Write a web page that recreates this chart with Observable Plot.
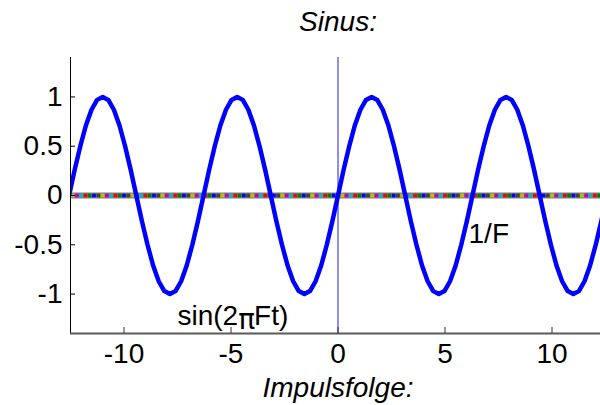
<!DOCTYPE html>
<html>
<head>
<meta charset="utf-8">
<script src="https://cdn.jsdelivr.net/npm/d3@7"></script>
<script src="https://cdn.jsdelivr.net/npm/@observablehq/plot@0.6"></script>
<style>
  html, body { margin: 0; padding: 0; background: #fff; overflow: hidden; }
  svg { display: block; }
</style>
</head>
<body>
<div id="chart"></div>
<script>
// ---- data ----
const titleText = "Sinus:";
const xLabelText = "Impulsfolge:";

const t = [-12.566, -12.305, -12.043, -11.781, -11.519, -11.257, -10.996, -10.734, -10.472, -10.210,
  -9.948, -9.687, -9.425, -9.163, -8.901, -8.639, -8.378, -8.116, -7.854, -7.592,
  -7.330, -7.069, -6.807, -6.545, -6.283, -6.021, -5.760, -5.498, -5.236, -4.974,
  -4.712, -4.451, -4.189, -3.927, -3.665, -3.403, -3.142, -2.880, -2.618, -2.356,
  -2.094, -1.833, -1.571, -1.309, -1.047, -0.785, -0.524, -0.262, 0,
  0.262, 0.524, 0.785, 1.047, 1.309, 1.571, 1.833, 2.094, 2.356, 2.618,
  2.880, 3.142, 3.403, 3.665, 3.927, 4.189, 4.451, 4.712, 4.974, 5.236,
  5.498, 5.760, 6.021, 6.283, 6.545, 6.807, 7.069, 7.330, 7.592, 7.854,
  8.116, 8.378, 8.639, 8.901, 9.163, 9.425, 9.687, 9.948, 10.210, 10.472,
  10.734, 10.996, 11.257, 11.519, 11.781, 12.043, 12.305, 12.566];

const sinVals = [
  0, 0.26, 0.5, 0.71, 0.87, 0.97, 1, 0.97, 0.87, 0.71, 0.5, 0.26,
  0, -0.26, -0.5, -0.71, -0.87, -0.97, -1, -0.97, -0.87, -0.71, -0.5, -0.26,
  0, 0.26, 0.5, 0.71, 0.87, 0.97, 1, 0.97, 0.87, 0.71, 0.5, 0.26,
  0, -0.26, -0.5, -0.71, -0.87, -0.97, -1, -0.97, -0.87, -0.71, -0.5, -0.26,
  0, 0.26, 0.5, 0.71, 0.87, 0.97, 1, 0.97, 0.87, 0.71, 0.5, 0.26,
  0, -0.26, -0.5, -0.71, -0.87, -0.97, -1, -0.97, -0.87, -0.71, -0.5, -0.26,
  0, 0.26, 0.5, 0.71, 0.87, 0.97, 1, 0.97, 0.87, 0.71, 0.5, 0.26,
  0, -0.26, -0.5, -0.71, -0.87, -0.97, -1, -0.97, -0.87, -0.71, -0.5, -0.26,
  0];

const impulseT = [-12.4, -12.2, -12.0, -11.8, -11.6, -11.4, -11.2, -11.0, -10.8, -10.6,
  -10.4, -10.2, -10.0, -9.8, -9.6, -9.4, -9.2, -9.0, -8.8, -8.6,
  -8.4, -8.2, -8.0, -7.8, -7.6, -7.4, -7.2, -7.0, -6.8, -6.6,
  -6.4, -6.2, -6.0, -5.8, -5.6, -5.4, -5.2, -5.0, -4.8, -4.6,
  -4.4, -4.2, -4.0, -3.8, -3.6, -3.4, -3.2, -3.0, -2.8, -2.6,
  -2.4, -2.2, -2.0, -1.8, -1.6, -1.4, -1.2, -1.0, -0.8, -0.6,
  -0.4, -0.2, 0.0, 0.2, 0.4, 0.6, 0.8, 1.0, 1.2, 1.4,
  1.6, 1.8, 2.0, 2.2, 2.4, 2.6, 2.8, 3.0, 3.2, 3.4,
  3.6, 3.8, 4.0, 4.2, 4.4, 4.6, 4.8, 5.0, 5.2, 5.4,
  5.6, 5.8, 6.0, 6.2, 6.4, 6.6, 6.8, 7.0, 7.2, 7.4,
  7.6, 7.8, 8.0, 8.2, 8.4, 8.6, 8.8, 9.0, 9.2, 9.4,
  9.6, 9.8, 10.0, 10.2, 10.4, 10.6, 10.8, 11.0, 11.2, 11.4,
  11.6, 11.8, 12.0, 12.2, 12.4];
const impulseLevel = 0;

const xDomain = [-12.5, 12.5];
const yDomain = [-1.4, 1.4];
const xTicks = [-10, -5, 0, 5, 10];
const xTickLabels = ["-10", "-5", "0", "5", "10"];
const yTicks = [-1, -0.5, 0, 0.5, 1];
const yTickLabels = ["-1", "-0.5", "0", "0.5", "1"];

const annoText = ["sin(2\u03C0Ft)", "1/F"];
const annoX = [-7.5, 6.1];
const annoY = [-1.22, -0.39];

// ---- styling ----
const cycleColors = ["#bfbf00", "#bf00bf", "#00bfbf", "#ff0000", "#008000", "#0000ff", "#404040"];
const FONT = "'Liberation Sans', Arial, Helvetica, sans-serif";
const FS = 28;

const curve = t.map((v, i) => ({t: v, y: sinVals[i]}));
const impulses = impulseT.map((v, i) => ({t: v, y: impulseLevel, c: cycleColors[i % cycleColors.length]}));
const annos = annoText.map((s, i) => ({s, x: annoX[i], y: annoY[i]}));

const plot = Plot.plot({
  width: 600,
  height: 405,
  marginLeft: 70,
  marginRight: -5,
  marginTop: 57,
  marginBottom: 72,
  style: {fontFamily: FONT, fontSize: FS + "px", background: "#fff", color: "#000"},
  x: {domain: xDomain},
  y: {domain: yDomain},
  marks: [
    Plot.ruleY([impulseLevel], {stroke: "#808080", strokeWidth: 6, clip: "frame"}),
    Plot.dot(impulses, {x: "t", y: "y", symbol: "square", r: 2.1, fill: "c", stroke: "none", clip: "frame"}),
    Plot.ruleX([0], {stroke: "#2020d8", strokeWidth: 1}),
    Plot.line(curve, {x: "t", y: "y", stroke: "#0000ff", strokeWidth: 4.5, clip: "frame", curve: "linear"}),
    // axis lines (left and bottom edges of the axes box)
    Plot.ruleX([xDomain[0]], {stroke: "#000", strokeWidth: 1}),
    Plot.ruleY([yDomain[0]], {stroke: "#5a5a5a", strokeWidth: 2}),
    // inward tick marks (shifted into the frame)
    Plot.axisY({ticks: yTicks, tickSize: 5, dx: 5, tickFormat: () => "", label: null, stroke: "#000"}),
    Plot.axisX({ticks: xTicks, tickSize: 6, dy: -6, tickFormat: () => "", label: null, stroke: "#333"}),
    // tick labels
    Plot.axisY({
      ticks: yTicks, tickFormat: d => yTickLabels[yTicks.indexOf(d)],
      tickSize: 0, tickPadding: 8, label: null, fontSize: FS
    }),
    Plot.axisX({
      ticks: xTicks, tickFormat: d => xTickLabels[xTicks.indexOf(d)],
      tickSize: 0, tickPadding: 10, label: null, fontSize: FS
    }),
    Plot.text(annos, {x: "x", y: "y", text: "s", textAnchor: "start", fontSize: FS, fill: "#000"}),
    Plot.text([titleText], {text: d => d, frameAnchor: "top", lineAnchor: "middle", dy: -35, fontStyle: "italic", fontSize: FS, fill: "#000"}),
    Plot.text([xLabelText], {text: d => d, frameAnchor: "bottom", lineAnchor: "middle", dy: 55, fontStyle: "italic", fontSize: FS, fill: "#000"})
  ]
});

// render the pi of the annotation lowered, as in the original
for (const el of plot.querySelectorAll("text")) {
  if (el.textContent === annoText[0]) {
    const ns = "http://www.w3.org/2000/svg";
    el.textContent = "";
    const a = document.createElementNS(ns, "tspan"); a.textContent = "sin(2";
    const p = document.createElementNS(ns, "tspan"); p.textContent = "\u03C0";
    p.setAttribute("dy", "4"); p.setAttribute("font-size", "28"); p.setAttribute("font-family", "'DejaVu Sans', sans-serif");
    const b = document.createElementNS(ns, "tspan"); b.textContent = "Ft)";
    b.setAttribute("dy", "-4"); b.setAttribute("dx", "-1");
    el.append(a, p, b);
  }
}

document.getElementById("chart").append(plot);
</script>
</body>
</html>
